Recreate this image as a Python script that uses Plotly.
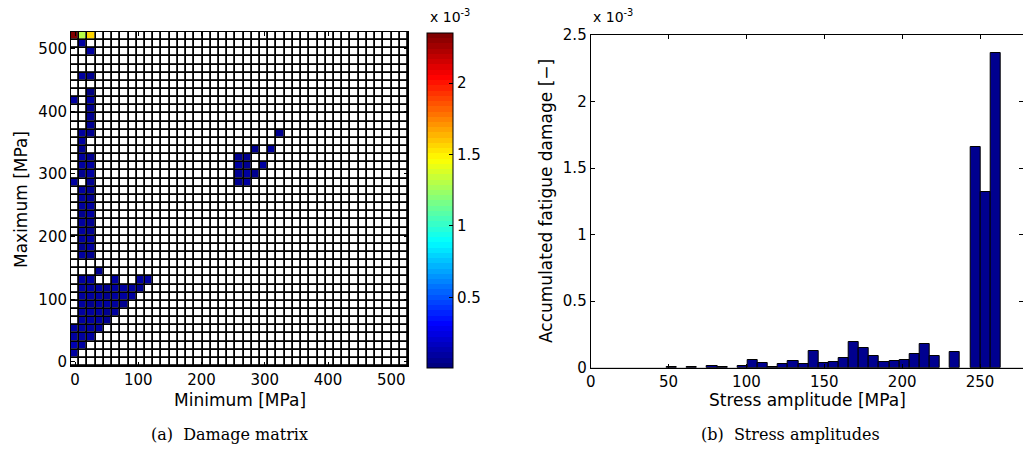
import plotly.graph_objects as go

W, H = 1023, 456

# ---------------- data: damage matrix (values in 1e-3) ----------------
BIN_MPA = 13.0
N_BINS = 41
# cells: (minimum bin, maximum bin, damage x1e-3)
cell_min_bin = [0, 1, 2, 1, 2, 1, 2, 2, 0, 2, 2, 2, 2, 1, 2, 1, 1,
                1, 2, 1, 2, 1, 2, 0, 2, 1, 2, 1, 2, 1, 2, 1, 2, 1, 2, 1, 2, 1, 2, 1, 2, 1, 2, 3,
                1, 2, 5, 8, 9,
                1, 2, 3, 4, 5, 6, 7, 8,
                1, 2, 3, 4, 5, 6, 7,
                1, 2, 3, 4, 5, 6,
                1, 2, 3, 4, 5,
                1, 2, 3, 4,
                0, 1, 2, 3,
                0, 1, 2,
                0, 1,
                0,
                25, 22, 24, 20, 21, 23, 20, 21, 20, 21, 22, 20, 21]
cell_max_bin = [40, 40, 40, 39, 38, 35, 35, 33, 32, 32, 31, 30, 29, 28, 28, 27, 26,
                25, 25, 24, 24, 23, 23, 22, 22, 21, 21, 20, 20, 19, 19, 18, 18, 17, 17, 16, 16, 15, 15, 14, 14, 13, 13, 11,
                10, 10, 10, 10, 10,
                9, 9, 9, 9, 9, 9, 9, 9,
                8, 8, 8, 8, 8, 8, 8,
                7, 7, 7, 7, 7, 7,
                6, 6, 6, 6, 6,
                5, 5, 5, 5,
                4, 4, 4, 4,
                3, 3, 3,
                2, 2,
                1,
                28, 26, 26, 25, 25, 24, 24, 24, 23, 23, 23, 22, 22]
cell_damage = [2.35, 1.32, 1.55, 0.10, 0.08, 0.09, 0.07, 0.04, 0.10, 0.08, 0.07, 0.06, 0.05, 0.08, 0.05, 0.08, 0.07,
               0.09, 0.07, 0.08, 0.10, 0.06, 0.09, 0.09, 0.07, 0.08, 0.06, 0.09, 0.07, 0.08, 0.10, 0.07, 0.09, 0.08, 0.06, 0.09, 0.07, 0.08, 0.10, 0.07, 0.08, 0.09, 0.06, 0.07,
               0.08, 0.09, 0.10, 0.09, 0.11,
               0.09, 0.08, 0.10, 0.07, 0.09, 0.08, 0.10, 0.07,
               0.08, 0.10, 0.09, 0.07, 0.08, 0.09, 0.10,
               0.09, 0.07, 0.10, 0.08, 0.09, 0.07,
               0.08, 0.10, 0.09, 0.07, 0.08,
               0.09, 0.08, 0.10, 0.07,
               0.10, 0.09, 0.08, 0.09,
               0.11, 0.09, 0.08,
               0.12, 0.10,
               0.11,
               0.06, 0.07, 0.08, 0.06, 0.07, 0.09, 0.08, 0.06, 0.07, 0.08, 0.06, 0.07, 0.09]
cbar_min, cbar_max = 0.005, 2.35
cbar_ticks = [0.5, 1, 1.5, 2]
matrix_ticks = [0, 100, 200, 300, 400, 500]

# ---------------- data: stress amplitude histogram (values in 1e-3) ----------------
amplitude_mpa = [52, 65, 78, 84.5, 97.5, 104, 110.5, 117, 123.5, 130, 136.5, 143, 149.5, 156,
                 162.5, 169, 175.5, 182, 188.5, 195, 201.5, 208, 214.5, 221, 234, 247, 253.5, 260]
damage_per_amp = [0.004, 0.004, 0.015, 0.005, 0.010, 0.060, 0.036, 0.008, 0.025, 0.053, 0.028, 0.125, 0.035, 0.043,
                  0.070, 0.195, 0.148, 0.088, 0.043, 0.050, 0.055, 0.105, 0.175, 0.088, 0.115, 1.658, 1.323, 2.362]
amp_ticks = [0, 50, 100, 150, 200, 250]
dmg_ticks = [0, 0.5, 1, 1.5, 2, 2.5]
dmg_ticklabels = ["0", "0.5", "1", "1.5", "2", "2.5"]

# ---------------- build matrix ----------------
centers = [BIN_MPA * i for i in range(N_BINS)]
z = [[None] * N_BINS for _ in range(N_BINS)]
for i, j, v in zip(cell_min_bin, cell_max_bin, cell_damage):
    z[j][i] = v
z_bg = [[1] * N_BINS for _ in range(N_BINS)]


def jet(t):
    c = lambda v: max(0.0, min(1.0, v))
    r, g, b = c(1.5 - abs(4 * t - 3)), c(1.5 - abs(4 * t - 2)), c(1.5 - abs(4 * t - 1))
    return "rgb(%d,%d,%d)" % (round(r * 255), round(g * 255), round(b * 255))


jet_scale = []
for k in range(64):
    col = jet(k / 63)
    jet_scale.append([k / 64, col])
    jet_scale.append([(k + 1) / 64, col])


def px(x):
    return x / W


def py(y):
    return 1 - y / H


FONT = "DejaVu Sans"
TICK = 15
fig = go.Figure()

GAP = 1.8
fig.add_trace(go.Heatmap(x=centers, y=centers, z=z_bg, colorscale=[[0, "white"], [1, "white"]],
                         showscale=False, xgap=GAP, ygap=GAP, hoverinfo="skip", xaxis="x", yaxis="y"))
fig.add_trace(go.Heatmap(
    x=centers, y=centers, z=z, colorscale=jet_scale, zmin=cbar_min, zmax=cbar_max,
    xgap=GAP, ygap=GAP, xaxis="x", yaxis="y",
    colorbar=dict(x=px(427), xanchor="left", y=py(368), yanchor="bottom",
                  len=335.3 / H, lenmode="fraction", thickness=26, thicknessmode="pixels",
                  outlinecolor="black", outlinewidth=1, xpad=0, ypad=0,
                  tickvals=cbar_ticks, ticktext=["0.5", "1", "1.5", "2"],
                  ticks="inside", ticklen=4, tickcolor="black",
                  tickfont=dict(family=FONT, size=TICK, color="black")),
))

fig.add_trace(go.Bar(x=amplitude_mpa, y=damage_per_amp, width=6.5,
                     marker=dict(color="#00008F", line=dict(color="black", width=1)),
                     xaxis="x2", yaxis="y2", showlegend=False))
fig.add_trace(go.Scatter(x=[None], y=[None], xaxis="x2", yaxis="y3", showlegend=False))

axis_common = dict(showgrid=False, zeroline=False, showline=True, linecolor="black", linewidth=1,
                   ticks="inside", ticklen=4, tickcolor="black", automargin=False,
                   tickfont=dict(family=FONT, size=TICK, color="black"))

fig.update_layout(
    template="none",
    width=W, height=H, autosize=False,
    margin=dict(l=0, r=0, t=0, b=0, pad=0, autoexpand=False),
    paper_bgcolor="white", plot_bgcolor="black",
    showlegend=False, bargap=0,
    xaxis=dict(domain=[px(71), px(408)], range=[-6.5, 526.5], tickvals=matrix_ticks,
               mirror="ticks", anchor="y", **axis_common),
    yaxis=dict(domain=[py(366), py(32)], range=[-6.5, 526.5], tickvals=matrix_ticks,
               mirror="ticks", anchor="x", **axis_common),
    xaxis2=dict(domain=[px(590.7), 1.0], range=[0, 277.6], tickvals=amp_ticks,
                mirror="ticks", anchor="y2", **axis_common),
    yaxis2=dict(domain=[py(367.7), py(35)], range=[0, 2.5], tickvals=dmg_ticks, ticktext=dmg_ticklabels,
                mirror=False, anchor="x2", **axis_common),
    yaxis3=dict(overlaying="y2", side="right", anchor="x2", range=[0, 2.5], tickvals=dmg_ticks,
                showticklabels=False, showgrid=False, zeroline=False, showline=False, automargin=False,
                ticks="inside", ticklen=4, tickcolor="black"),
)

# white background for bar axes
fig.add_shape(type="rect", xref="paper", yref="paper", x0=px(590.7), x1=1.0, y0=py(367.7), y1=py(35),
              fillcolor="white", line=dict(width=0), layer="below")

lab = dict(family=FONT, size=17, color="black")
cap = dict(family="DejaVu Serif", size=16, color="black")
ann = [
    dict(text="Maximum [MPa]", x=px(21), y=py(200), textangle=-90, font=lab),
    dict(text="Minimum [MPa]", x=px(239.5), y=py(400), font=lab),
    dict(text="Accumulated fatigue damage [−]", x=px(546), y=py(201), textangle=-90, font=lab),
    dict(text="Stress amplitude [MPa]", x=px(807), y=py(400), font=lab),
    dict(text="(a)  Damage matrix", x=px(229), y=py(434), font=cap),
    dict(text="(b)  Stress amplitudes", x=px(790), y=py(434), font=cap),
    dict(text="x 10<sup>-3</sup>", x=px(428), y=py(27), xanchor="left", yanchor="bottom",
         font=dict(family=FONT, size=14, color="black")),
    dict(text="x 10<sup>-3</sup>", x=px(591), y=py(27), xanchor="left", yanchor="bottom",
         font=dict(family=FONT, size=14, color="black")),
]
for a in ann:
    a.setdefault("xanchor", "center")
    a.setdefault("yanchor", "middle")
    fig.add_annotation(xref="paper", yref="paper", showarrow=False, **a)

fig.write_html("out.html", config={"displayModeBar": False},
               post_script="document.body.style.margin='0';document.body.style.overflow='hidden';")
